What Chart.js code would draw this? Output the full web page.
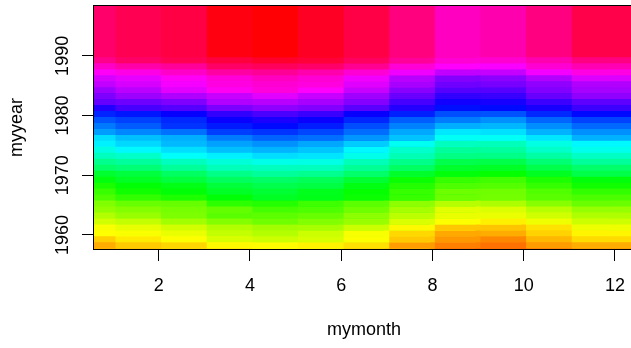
<!DOCTYPE html>
<html>
<head>
<meta charset="utf-8">
<script src="https://cdn.jsdelivr.net/npm/chart.js@4/dist/chart.umd.min.js"></script>
<style>
  html, body { margin: 0; padding: 0; background: #fff; overflow: hidden; width: 631px; height: 348px; }
  #wrap { position: relative; width: 635px; height: 348px; }
</style>
</head>
<body>
<div id="wrap"><canvas id="c" width="635" height="348"></canvas></div>
<script>
// Monthly Mauna Loa CO2 (ppm), one row per year, Jan..Dec
const mymonth = [1, 2, 3, 4, 5, 6, 7, 8, 9, 10, 11, 12];
const myyear = [1964, 1965, 1966, 1967, 1968, 1969, 1970, 1971, 1972, 1973, 1974, 1975,
                1976, 1977, 1978, 1979, 1980, 1981, 1982, 1983, 1984, 1985, 1986, 1987,
                1988, 1989, 1990, 1991, 1992, 1993, 1994, 1995, 1996, 1997];
const co2 = [
  [319.41, 320.07, 320.74, 321.40, 322.06, 321.73, 320.27, 318.54, 316.54, 316.71, 317.53, 318.55],
  [319.27, 320.28, 320.73, 321.97, 322.00, 321.71, 321.05, 318.71, 317.66, 317.14, 318.70, 319.25],
  [320.46, 321.43, 322.23, 323.54, 323.91, 323.59, 322.24, 320.20, 318.48, 317.94, 319.63, 320.87],
  [322.17, 322.34, 322.88, 324.25, 324.83, 323.93, 322.38, 320.76, 319.10, 319.24, 320.56, 321.80],
  [322.40, 322.99, 323.73, 324.86, 325.40, 325.20, 323.98, 321.95, 320.18, 320.09, 321.16, 322.74],
  [323.83, 324.26, 325.47, 326.50, 327.21, 326.54, 325.72, 323.50, 322.22, 321.62, 322.69, 323.95],
  [324.89, 325.82, 326.77, 327.97, 327.91, 327.50, 326.18, 324.53, 322.93, 322.90, 323.85, 324.96],
  [326.01, 326.51, 327.01, 327.62, 328.76, 328.40, 327.20, 325.27, 323.20, 323.40, 324.63, 325.85],
  [326.60, 327.47, 327.58, 329.56, 329.90, 328.92, 327.88, 326.16, 324.68, 325.04, 326.34, 327.39],
  [328.37, 329.40, 330.14, 331.33, 332.31, 331.90, 330.70, 329.15, 327.35, 327.02, 327.99, 328.48],
  [329.18, 330.55, 331.32, 332.48, 332.92, 332.08, 331.01, 329.23, 327.27, 327.21, 328.29, 329.41],
  [330.23, 331.25, 331.87, 333.14, 333.80, 333.43, 331.73, 329.90, 328.40, 328.17, 329.32, 330.59],
  [331.58, 332.39, 333.33, 334.41, 334.71, 334.17, 332.89, 330.77, 329.14, 328.78, 330.14, 331.52],
  [332.75, 333.24, 334.53, 335.90, 336.57, 336.10, 334.76, 332.59, 331.42, 330.98, 332.24, 333.68],
  [334.80, 335.22, 336.47, 337.59, 337.84, 337.72, 336.37, 334.51, 332.60, 332.38, 333.75, 334.78],
  [336.05, 336.59, 337.79, 338.71, 339.30, 339.12, 337.56, 335.92, 333.75, 333.70, 335.12, 336.56],
  [337.84, 338.19, 339.91, 340.60, 341.29, 341.00, 339.39, 337.43, 335.72, 335.84, 336.93, 338.04],
  [339.06, 340.30, 341.21, 342.33, 342.74, 342.08, 340.32, 338.26, 336.52, 336.68, 338.19, 339.44],
  [340.57, 341.44, 342.53, 343.39, 343.96, 343.18, 341.88, 339.65, 337.81, 337.69, 339.09, 340.32],
  [341.20, 342.35, 342.93, 344.77, 345.58, 345.14, 343.81, 342.21, 339.69, 339.82, 340.98, 342.82],
  [343.52, 344.33, 345.11, 346.88, 347.25, 346.62, 345.22, 343.11, 340.90, 341.18, 342.80, 344.04],
  [344.79, 345.82, 347.25, 348.17, 348.74, 348.07, 346.38, 344.51, 342.92, 342.62, 344.06, 345.38],
  [346.11, 346.78, 347.68, 349.37, 350.03, 349.37, 347.76, 345.73, 344.68, 343.99, 345.48, 346.72],
  [347.84, 348.29, 349.23, 350.80, 351.66, 351.07, 349.33, 347.92, 346.27, 346.18, 347.64, 348.78],
  [350.25, 351.54, 352.05, 353.41, 354.04, 353.62, 352.22, 350.27, 348.55, 348.72, 349.91, 351.18],
  [352.60, 352.92, 353.53, 355.26, 355.52, 354.97, 353.75, 351.52, 349.64, 349.83, 351.14, 352.37],
  [353.50, 354.55, 355.23, 356.04, 357.00, 356.07, 354.67, 352.76, 350.82, 351.04, 352.69, 354.07],
  [354.59, 355.63, 357.03, 358.48, 359.22, 358.12, 356.06, 353.92, 352.05, 352.11, 353.64, 354.89],
  [355.88, 356.63, 357.72, 359.07, 359.58, 359.17, 356.94, 354.92, 352.94, 353.23, 354.09, 355.33],
  [356.63, 357.10, 358.32, 359.41, 360.23, 359.55, 357.53, 355.48, 353.67, 353.95, 355.30, 356.78],
  [358.34, 358.89, 359.95, 361.25, 361.67, 360.94, 359.55, 357.49, 355.84, 356.00, 357.59, 359.05],
  [359.98, 361.03, 361.66, 363.48, 363.82, 363.30, 361.94, 359.50, 358.11, 357.80, 359.61, 360.74],
  [362.09, 363.29, 364.06, 364.76, 365.45, 365.01, 363.70, 361.54, 359.51, 359.65, 360.80, 362.38],
  [363.23, 364.06, 364.61, 366.40, 366.84, 365.68, 364.52, 362.57, 360.24, 360.83, 362.49, 364.34]
];
// Range of the whole record (1959-1997) that the rainbow palette spans
const colourRange = [313.18, 366.84];
const xTicks = [2, 4, 6, 8, 10, 12];
const yTicks = [1960, 1970, 1980, 1990];
const xLimits = [0.56, 12.44];
const yLimits = [1957.48, 1998.52];

const FONT = '"Liberation Sans", Arial, Helvetica, sans-serif';
const FONT_PX = 18;

// rainbow palette: red -> yellow -> green -> cyan -> blue -> magenta
function rainbowColour(v) {
  const t = (v - colourRange[0]) / (colourRange[1] - colourRange[0]);
  const h = Math.max(0, Math.min(1, t)) * 359;
  return 'hsl(' + h.toFixed(2) + ',100%,50%)';
}

// one filled square per observation, drawn in time order
const points = [];
myyear.forEach((yr, i) => {
  mymonth.forEach((m, j) => {
    points.push({ x: m, y: yr, v: co2[i][j] });
  });
});

const axisText = {
  id: 'axisText',
  afterDatasetsDraw(chart) {
    const { ctx, chartArea: a } = chart;
    ctx.save();
    ctx.strokeStyle = '#000';
    ctx.lineWidth = 1;
    ctx.strokeRect(Math.round(a.left) + 0.5, Math.round(a.top) + 0.5,
                   Math.round(a.right - a.left) - 1, Math.round(a.bottom - a.top) - 1);
    ctx.restore();
  },
  afterDraw(chart) {
    const { ctx, chartArea: a, scales } = chart;
    ctx.save();
    ctx.fillStyle = '#000';
    ctx.font = FONT_PX + 'px ' + FONT;
    ctx.textAlign = 'center';
    ctx.textBaseline = 'alphabetic';
    xTicks.forEach(v => ctx.fillText(String(v), scales.x.getPixelForValue(v), 291));
    yTicks.forEach(v => {
      ctx.save();
      ctx.translate(68, scales.y.getPixelForValue(v));
      ctx.rotate(-Math.PI / 2);
      ctx.fillText(String(v), 0, 0);
      ctx.restore();
    });
    ctx.fillText('mymonth', (a.left + a.right) / 2, 335);
    ctx.translate(22, (a.top + a.bottom) / 2);
    ctx.rotate(-Math.PI / 2);
    ctx.fillText('myyear', 0, 0);
    ctx.restore();
  }
};

const tickGrid = { display: true, drawOnChartArea: false, drawTicks: true, tickLength: 11, color: '#000', lineWidth: 1 };

new Chart(document.getElementById('c'), {
  type: 'scatter',
  data: {
    datasets: [{
      data: points,
      pointStyle: 'rect',
      pointRadius: 61.1,
      pointHoverRadius: 61.1,
      pointBorderWidth: 0,
      pointHoverBorderWidth: 0,
      pointBackgroundColor: ctx => rainbowColour(ctx.raw.v),
      pointHoverBackgroundColor: ctx => rainbowColour(ctx.raw.v),
      clip: 0
    }]
  },
  options: {
    responsive: false,
    devicePixelRatio: 1,
    animation: false,
    events: [],
    layout: { autoPadding: false, padding: { top: 5, left: 0, right: 0, bottom: 0 } },
    plugins: { legend: { display: false }, tooltip: { enabled: false } },
    scales: {
      x: {
        type: 'linear',
        min: xLimits[0], max: xLimits[1],
        afterBuildTicks: s => { s.ticks = xTicks.map(v => ({ value: v })); },
        afterFit: s => { s.height = 98; },
        ticks: { display: false },
        grid: tickGrid,
        border: { display: false }
      },
      y: {
        type: 'linear',
        min: yLimits[0], max: yLimits[1],
        afterBuildTicks: s => { s.ticks = yTicks.map(v => ({ value: v })); },
        afterFit: s => { s.width = 93; },
        ticks: { display: false },
        grid: tickGrid,
        border: { display: false }
      }
    }
  },
  plugins: [axisText]
});
</script>
</body>
</html>
